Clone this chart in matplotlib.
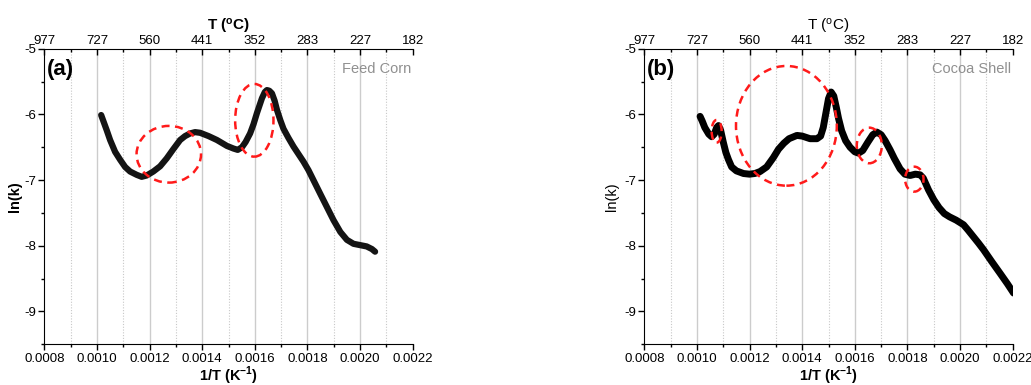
import matplotlib
matplotlib.use("Agg")
import matplotlib.pyplot as plt
from matplotlib.patches import Ellipse
from matplotlib.ticker import MultipleLocator

plt.rcParams['font.family'] = ['Liberation Sans', 'DejaVu Sans']

# ---- data ----
corn_x = [0.001016, 0.001037, 0.00105, 0.001069, 0.001088, 0.001107, 0.001126, 0.001151,
          0.00117, 0.001189, 0.001214, 0.00124, 0.001265, 0.00129, 0.001316, 0.001335,
          0.001354, 0.001373, 0.001392, 0.001424, 0.001456, 0.001494, 0.001519, 0.001535,
          0.001551, 0.001565, 0.001582, 0.001595, 0.001608, 0.001627, 0.001638, 0.001646,
          0.001655, 0.001665, 0.001675, 0.001684, 0.001697, 0.001709, 0.001728, 0.001747,
          0.001785, 0.001804, 0.00185, 0.001899, 0.001925, 0.00195, 0.001975, 0.0020,
          0.002025, 0.002045, 0.002057]
corn_y = [-6.01, -6.24, -6.39, -6.57, -6.69, -6.80, -6.87, -6.92,
          -6.95, -6.93, -6.87, -6.79, -6.67, -6.53, -6.39, -6.33,
          -6.29, -6.27, -6.28, -6.33, -6.39, -6.48, -6.52, -6.54,
          -6.50, -6.42, -6.29, -6.15, -5.98, -5.755, -5.66, -5.63,
          -5.64, -5.68, -5.79, -5.93, -6.09, -6.22, -6.36, -6.49,
          -6.72, -6.85, -7.22, -7.61, -7.79, -7.91, -7.97, -7.99,
          -8.01, -8.05, -8.09]

cocoa_x = [0.001012, 0.00102, 0.00103, 0.001045, 0.001056, 0.001066, 0.001075, 0.001082,
           0.00109, 0.0011, 0.00111, 0.00112, 0.001132, 0.00115, 0.001177, 0.0012,
           0.00122, 0.00124, 0.001265, 0.00129, 0.00131, 0.00133, 0.00135, 0.00138,
           0.0014, 0.00143, 0.001456, 0.00147, 0.00148, 0.00149, 0.0015, 0.00151,
           0.00152, 0.00153, 0.001538, 0.00155, 0.001565, 0.001582, 0.0016, 0.001614,
           0.00163, 0.00165, 0.001668, 0.001684, 0.0017, 0.001715, 0.001734, 0.00175,
           0.001772, 0.00179, 0.00181, 0.00183, 0.001848, 0.00186, 0.00188, 0.0019,
           0.00192, 0.00194, 0.00196, 0.001985, 0.002013, 0.00203, 0.00205, 0.00207,
           0.002089, 0.00212, 0.002152, 0.00218, 0.002203]
cocoa_y = [-6.03, -6.10, -6.20, -6.30, -6.34, -6.30, -6.20, -6.17,
           -6.24, -6.42, -6.58, -6.69, -6.80, -6.86, -6.90, -6.91,
           -6.90, -6.87, -6.80, -6.66, -6.53, -6.44, -6.37, -6.32,
           -6.33, -6.37, -6.37, -6.33, -6.20, -5.98, -5.76, -5.66,
           -5.72, -5.90, -6.06, -6.25, -6.40, -6.50, -6.57, -6.59,
           -6.55, -6.42, -6.31, -6.27, -6.31, -6.40, -6.54, -6.67,
           -6.83, -6.91, -6.93, -6.91, -6.92, -6.97, -7.15, -7.30,
           -7.42, -7.51, -7.56, -7.61, -7.68, -7.76, -7.86, -7.96,
           -8.06, -8.24, -8.42, -8.58, -8.72]

# highlight ellipses: centre x, centre y, width, height
corn_ell_x = [0.001273, 0.001598]
corn_ell_y = [-6.607, -6.09]
corn_ell_w = [0.000245, 0.0001456]
corn_ell_h = [0.863, 1.107]

cocoa_ell_x = [0.001075, 0.00134, 0.001655, 0.001826]
cocoa_ell_y = [-6.257, -6.174, -6.473, -6.986]
cocoa_ell_w = [0.000038, 0.000383, 0.000095, 0.00007]
cocoa_ell_h = [0.345, 1.822, 0.542, 0.38]

bottom_ticks = [0.0008, 0.0010, 0.0012, 0.0014, 0.0016, 0.0018, 0.0020, 0.0022]
bottom_labels = ['0.0008', '0.0010', '0.0012', '0.0014', '0.0016', '0.0018', '0.0020', '0.0022']
top_labels = ['977', '727', '560', '441', '352', '283', '227', '182']
y_ticks = [-9, -8, -7, -6, -5]
y_labels = ['-9', '-8', '-7', '-6', '-5']

fig = plt.figure(figsize=(10.31, 3.85), dpi=100)


def make_panel(rect, xs, ys, ex, ey, ew, eh, tag, name, bold, lw, col, ylpad):
    ax = fig.add_axes(rect)
    ax.set_xlim(0.0008, 0.0022)
    ax.set_ylim(-9.5, -5)
    # grid
    for t in bottom_ticks[1:-1]:
        ax.axvline(t, color='#cccccc', lw=1.0, zorder=0)
    for i in range(7):
        t = 0.0009 + 0.0002 * i
        ax.axvline(t, color='#c8c8c8', lw=0.8, ls=(0, (1, 1.5)), zorder=0)
    ax.plot(xs, ys, color=col, lw=lw, solid_capstyle='round', solid_joinstyle='round', zorder=3)
    for cx, cy, w, h in zip(ex, ey, ew, eh):
        e = Ellipse((cx, cy), w, h, fill=False, edgecolor='#ff1a1a', lw=1.8,
                    ls=(0, (3.2, 2.2)), zorder=4)
        ax.add_patch(e)
    ax.spines['right'].set_visible(False)
    ax.spines['top'].set_visible(False)
    ax.set_xticks(bottom_ticks)
    ax.set_xticklabels(bottom_labels)
    ax.xaxis.set_minor_locator(MultipleLocator(0.0001))
    ax.set_yticks(y_ticks)
    ax.set_yticklabels(y_labels)
    ax.yaxis.set_minor_locator(MultipleLocator(0.5))
    ax.tick_params(axis='both', which='major', direction='out', length=4, width=1, labelsize=9.5, pad=2)
    ax.tick_params(axis='both', which='minor', direction='out', length=2.5, width=1)
    fw = 'bold' if bold else 'normal'
    ax.set_xlabel('1/T (K$^{\\mathregular{-1}}$)', fontsize=10.5, fontweight='bold', labelpad=0)
    ax.set_ylabel('ln(k)', fontsize=10.5, fontweight=fw, labelpad=ylpad)
    ax.text(0.008, 0.965, tag, transform=ax.transAxes, fontsize=16, fontweight='bold',
            ha='left', va='top')
    ax.text(0.995, 0.955, name, transform=ax.transAxes, fontsize=10.5, color='#909090',
            ha='right', va='top')
    top = ax.twiny()
    top.set_xlim(ax.get_xlim())
    top.set_xticks(bottom_ticks)
    top.set_xticklabels(top_labels)
    top.xaxis.set_minor_locator(MultipleLocator(0.0001))
    for s in ['left', 'right', 'bottom']:
        top.spines[s].set_visible(False)
    top.tick_params(axis='x', which='major', direction='in', length=4, width=1, labelsize=9.5, pad=1)
    top.tick_params(axis='x', which='minor', direction='in', length=2.5, width=1)
    top.set_xlabel('T ($\\mathregular{^{o}}$C)', fontsize=11, fontweight=fw, labelpad=3.5)
    return ax


make_panel([0.043, 0.1057, 0.3573, 0.7678], corn_x, corn_y, corn_ell_x, corn_ell_y,
           corn_ell_w, corn_ell_h, '(a)', 'Feed Corn', True, 4.5, '#141414', 1.5)
make_panel([0.6249, 0.1057, 0.3574, 0.7678], cocoa_x, cocoa_y, cocoa_ell_x, cocoa_ell_y,
           cocoa_ell_w, cocoa_ell_h, '(b)', 'Cocoa Shell', False, 5.0, 'black', 4)

fig.savefig('out.png', dpi=100)
